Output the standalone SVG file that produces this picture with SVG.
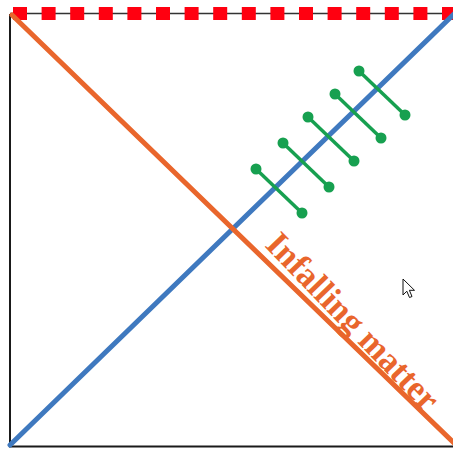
<svg xmlns="http://www.w3.org/2000/svg" width="453" height="450" viewBox="0 0 453 450">
  <defs>
    <style>
      .frame { stroke: #1a1a1a; stroke-width: 2; fill: none; }
      .topline { stroke: #333; stroke-width: 1.5; }
      .sq { fill: #FF0010; }
      .orange { stroke: #E9662C; stroke-width: 5; stroke-linecap: round; }
      .blue { stroke: #3F79BF; stroke-width: 5; stroke-linecap: round; }
      .rod { stroke: #17A050; stroke-width: 3.5; }
      .ball { fill: #17A050; }
      .label { font-family: "Liberation Serif", "Times New Roman", serif; font-weight: bold; font-size: 35px; fill: #E9662C; }
    </style>
    <g id="dumbbell-shape">
      <line class="rod" x1="0" y1="0" x2="46" y2="44"/>
      <circle class="ball" cx="0" cy="0" r="5.5"/>
      <circle class="ball" cx="46" cy="44" r="5.5"/>
    </g>
  </defs>
  <rect width="453" height="450" fill="#ffffff"/>

  <g id="frame">
    <line class="frame" x1="10" y1="14" x2="10" y2="447"/>
    <line class="frame" x1="9" y1="446.5" x2="453" y2="446.5"/>
    <line class="topline" x1="10" y1="13.5" x2="453" y2="13.5"/>
  </g>

  <g id="singularity">
    <rect class="sq" x="13" y="7" width="14" height="13"/>
    <rect class="sq" x="41.6" y="7" width="14" height="13"/>
    <rect class="sq" x="70.2" y="7" width="14" height="13"/>
    <rect class="sq" x="98.8" y="7" width="14" height="13"/>
    <rect class="sq" x="127.4" y="7" width="14" height="13"/>
    <rect class="sq" x="156" y="7" width="14" height="13"/>
    <rect class="sq" x="184.6" y="7" width="14" height="13"/>
    <rect class="sq" x="213.2" y="7" width="14" height="13"/>
    <rect class="sq" x="241.8" y="7" width="14" height="13"/>
    <rect class="sq" x="270.4" y="7" width="14" height="13"/>
    <rect class="sq" x="299" y="7" width="14" height="13"/>
    <rect class="sq" x="327.6" y="7" width="14" height="13"/>
    <rect class="sq" x="356.2" y="7" width="14" height="13"/>
    <rect class="sq" x="384.8" y="7" width="14" height="13"/>
    <rect class="sq" x="413.4" y="7" width="14" height="13"/>
    <rect class="sq" x="442" y="7" width="14" height="13"/>
  </g>

  <g id="connectors">
    <line id="horizon" class="blue" x1="10" y1="445" x2="455" y2="13"/>
    <line id="infalling" class="orange" x1="12" y1="15" x2="455" y2="444"/>
  </g>

  <g id="dumbbells">
    <use href="#dumbbell-shape" x="256" y="169"/>
    <use href="#dumbbell-shape" x="283" y="143"/>
    <use href="#dumbbell-shape" x="308" y="117"/>
    <use href="#dumbbell-shape" x="335" y="94"/>
    <use href="#dumbbell-shape" x="359" y="71"/>
  </g>

  <g id="label">
    <text class="label" transform="translate(264,246) rotate(46)" textLength="232" lengthAdjust="spacingAndGlyphs">Infalling matter</text>
  </g>

  <g id="cursor">
    <polygon points="403,279 403,295 406.8,291.2 409.5,297.5 412,296.5 409.4,290.3 414.5,290.3" fill="#ffffff" stroke="#111" stroke-width="1" stroke-linejoin="round"/>
  </g>
</svg>
